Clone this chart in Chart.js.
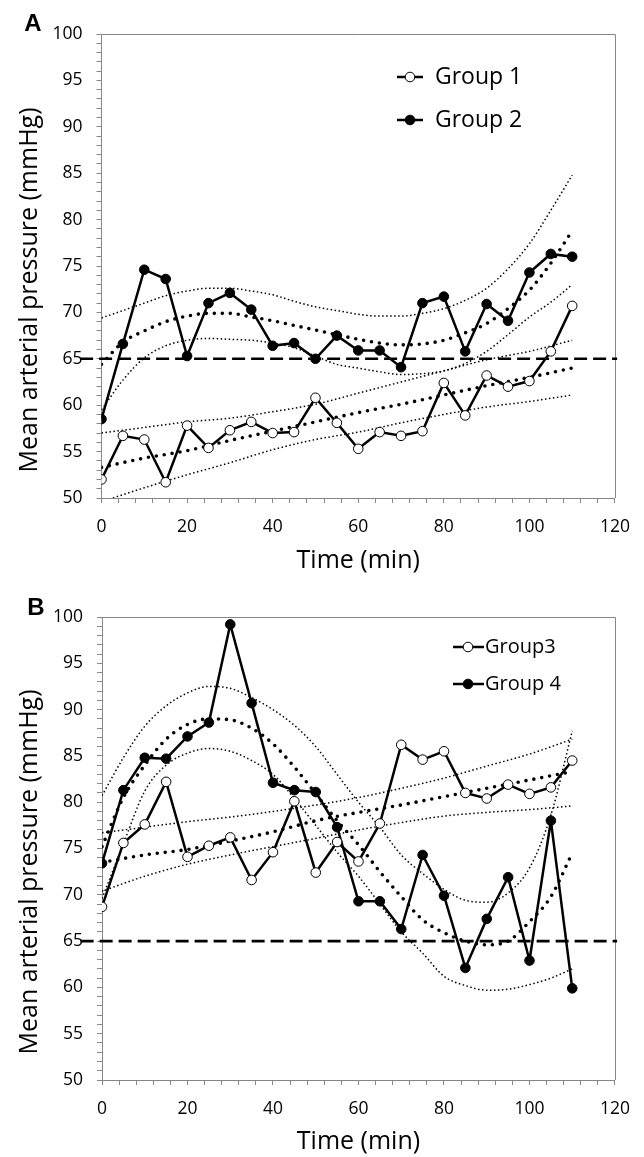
<!DOCTYPE html>
<html>
<head>
<meta charset="utf-8">
<script src="https://cdn.jsdelivr.net/npm/chart.js@4.4.1/dist/chart.umd.min.js"></script>
<style>
  html, body { margin: 0; padding: 0; background: #fff; }
  .panel { position: absolute; left: 0; width: 644px; }
</style>
</head>
<body>
<div class="panel" style="top:0;height:580px"><canvas id="chartA" width="644" height="580" style="width:644px;height:580px"></canvas></div>
<div class="panel" style="top:580px;height:577px"><canvas id="chartB" width="644" height="577" style="width:644px;height:577px"></canvas></div>
<script>
// time points (min)
const time = [0, 5, 10, 15, 20, 25, 30, 35, 40, 45, 50, 55, 60, 65, 70, 75, 80, 85, 90, 95, 100, 105, 110];
const bandTime = [0, 10, 20, 30, 40, 50, 60, 70, 80, 90, 100, 110];

// panel A
const group1 = [52.0, 56.7, 56.3, 51.7, 57.8, 55.4, 57.3, 58.2, 57.0, 57.1, 60.8, 58.1, 55.3, 57.1, 56.7, 57.2, 62.4, 58.9, 63.2, 62.0, 62.6, 65.8, 70.7];
const group2 = [58.5, 66.6, 74.6, 73.6, 65.3, 71.0, 72.1, 70.3, 66.4, 66.7, 65.0, 67.5, 65.9, 65.9, 64.1, 71.0, 71.7, 65.8, 70.9, 69.1, 74.3, 76.3, 76.0];
const trend1 = [53.3, 54.3, 55.1, 56.2, 57.2, 58.2, 59.2, 60.1, 61.1, 62.1, 63.0, 64.0];
const upper1 = [57.0, 57.6, 58.2, 58.6, 59.3, 60.1, 61.3, 62.5, 63.7, 64.9, 65.8, 67.0];
const lower1 = [49.6, 51.1, 52.5, 53.8, 55.2, 56.3, 57.1, 58.1, 59.0, 59.8, 60.4, 61.1];
const trend2 = [64.4, 66.8, 68.0, 69.0, 69.6, 69.9, 69.9, 69.5, 69.1, 68.6, 68.1, 67.6, 67.1, 66.7, 66.5, 66.6, 67.0, 67.8, 68.8, 70.4, 72.4, 75.3, 78.8];
const upper2 = [69.4, 70.2, 71.0, 71.8, 72.3, 72.6, 72.6, 72.3, 71.9, 71.2, 70.6, 70.2, 69.8, 69.6, 69.6, 69.9, 70.4, 71.3, 72.6, 74.7, 77.4, 81.0, 84.8];
const lower2 = [59.5, 62.7, 65.1, 66.4, 67.0, 67.2, 67.1, 67.0, 66.7, 66.2, 65.3, 64.4, 64.0, 63.6, 63.3, 63.4, 63.7, 64.5, 65.8, 67.6, 69.5, 71.1, 73.0];

// panel B
const group3 = [68.7, 75.6, 77.6, 82.2, 74.1, 75.3, 76.2, 71.6, 74.6, 80.1, 72.4, 75.7, 73.6, 77.7, 86.2, 84.6, 85.5, 81.0, 80.4, 81.9, 80.9, 81.6, 84.5];
const group4 = [73.4, 81.3, 84.8, 84.7, 87.1, 88.6, 99.2, 90.7, 82.1, 81.3, 81.1, 77.3, 69.3, 69.3, 66.3, 74.3, 69.9, 62.1, 67.4, 71.9, 62.9, 78.0, 59.9];
const trend3 = [73.5, 74.3, 74.9, 75.8, 76.8, 78.0, 78.9, 79.7, 80.6, 81.5, 82.4, 83.3];
const upper3 = [76.7, 77.3, 77.9, 78.4, 79.0, 79.7, 80.5, 81.5, 82.6, 83.9, 85.2, 86.8];
const lower3 = [70.4, 72.0, 73.3, 74.3, 75.2, 76.1, 77.0, 77.8, 78.5, 78.9, 79.2, 79.6];
const trend4 = [75.2, 80.5, 84.0, 86.8, 88.4, 89.0, 88.9, 88.0, 86.3, 83.8, 80.9, 78.0, 75.4, 72.5, 69.8, 67.3, 65.9, 65.0, 64.6, 65.0, 67.1, 69.8, 74.5];
const upper4 = [80.7, 84.8, 88.2, 90.4, 91.8, 92.5, 92.3, 91.3, 90.0, 88.3, 86.0, 83.0, 80.0, 77.3, 74.3, 72.3, 70.6, 69.4, 69.2, 70.2, 72.9, 78.6, 87.7];
const lower4 = [69.6, 75.5, 81.2, 84.0, 85.3, 85.8, 85.5, 84.5, 83.0, 80.4, 77.5, 74.6, 72.0, 69.0, 66.0, 63.7, 61.2, 60.2, 59.7, 59.8, 60.3, 61.0, 62.0];

// 65 mmHg threshold
const cutoffTime = [-5, 120.5];
const cutoffMAP = [65, 65];

const yTicksMajor = 5;
const xTicksMajor = 20;

const FONT = '"Open Sans", Lato, sans-serif';
const GREY = '#868686';

function pts(xs, ys) {
    return ys.map((y, i) => ({ x: xs[i], y: y }));
}

function seriesSet(label, ys, filled) {
    return {
        label: label,
        data: pts(time, ys),
        borderColor: '#000',
        borderWidth: 2.5,
        pointRadius: 4.8,
        pointBorderWidth: 1,
        pointBorderColor: '#000',
        pointBackgroundColor: filled ? '#000' : '#fff',
        tension: 0
    };
}

function trendSet(xs, ys) {
    return {
        data: pts(xs, ys),
        borderColor: '#000',
        borderWidth: 3.6,
        borderDash: [0, 8],
        borderCapStyle: 'round',
        pointRadius: 0,
        cubicInterpolationMode: 'monotone'
    };
}

function bandSet(xs, ys) {
    return {
        data: pts(xs, ys),
        borderColor: '#000',
        borderWidth: 1.5,
        borderDash: [1.5, 2.5],
        pointRadius: 0,
        cubicInterpolationMode: 'monotone'
    };
}

function cutoffSet() {
    return {
        data: pts(cutoffTime, cutoffMAP),
        borderColor: '#000',
        borderWidth: 2.6,
        borderDash: [13, 6],
        pointRadius: 0,
        clip: false
    };
}

// frame, panel letter, y title and legend
const panelDecor = {
    id: 'panelDecor',
    beforeDatasetsDraw(chart, args, opts) {
        const ctx = chart.ctx, ca = chart.chartArea;
        ctx.save();
        ctx.strokeStyle = GREY;
        ctx.lineWidth = 1;
        ctx.beginPath();
        ctx.moveTo(ca.left, ca.top + 0.5);
        ctx.lineTo(ca.right + 0.5, ca.top + 0.5);
        ctx.lineTo(ca.right + 0.5, ca.bottom);
        ctx.stroke();
        ctx.restore();
    },
    afterDraw(chart, args, opts) {
        const ctx = chart.ctx;
        ctx.save();
        ctx.fillStyle = '#000';
        ctx.font = 'bold 24px "Liberation Sans", Arial, sans-serif';
        ctx.textAlign = 'center';
        ctx.textBaseline = 'middle';
        ctx.fillText(opts.letter, opts.letterX, opts.letterY);

        // y axis title
        ctx.save();
        ctx.translate(opts.yTitleX, opts.yTitleY);
        ctx.rotate(-Math.PI / 2);
        ctx.font = '25px ' + FONT;
        ctx.fillText('Mean arterial pressure (mmHg)', 0, 0);
        ctx.restore();

        const lg = opts.legend;
        lg.items.forEach((item, i) => {
            const y = lg.ys[i];
            ctx.strokeStyle = '#000';
            ctx.lineWidth = 2.5;
            ctx.beginPath();
            ctx.moveTo(lg.lineX[0], y);
            ctx.lineTo(lg.lineX[1], y);
            ctx.stroke();
            ctx.beginPath();
            ctx.arc(lg.markerX, y, 4.8, 0, Math.PI * 2);
            ctx.fillStyle = item.filled ? '#000' : '#fff';
            ctx.fill();
            ctx.lineWidth = 1;
            ctx.stroke();
            ctx.fillStyle = '#000';
            ctx.font = lg.size + 'px ' + FONT;
            ctx.textAlign = 'left';
            ctx.textBaseline = 'middle';
            ctx.fillText(item.label, lg.textX, y);
        });
        ctx.restore();
    }
};

function makeChart(id, datasets, geom, decor) {
    const tickFont = { family: FONT, size: 17.5 };
    const titleFont = { family: FONT, size: 25 };
    return new Chart(document.getElementById(id).getContext('2d'), {
        type: 'line',
        data: { datasets: datasets },
        options: {
            responsive: false,
            animation: false,
            events: [],
            layout: { padding: { top: geom.top, right: geom.right, left: 0, bottom: 0 } },
            plugins: {
                legend: { display: false },
                tooltip: { enabled: false },
                panelDecor: decor
            },
            scales: {
                x: {
                    type: 'linear',
                    min: 0,
                    max: 120,
                    afterFit: (s) => { s.height = geom.xh; },
                    border: { color: GREY, width: 1 },
                    grid: { drawOnChartArea: false, drawTicks: true, tickLength: 5, color: GREY },
                    ticks: {
                        stepSize: 4,
                        autoSkip: false,
                        maxTicksLimit: 200,
                        maxRotation: 0,
                        padding: 14,
                        color: '#000',
                        font: tickFont,
                        callback: (v) => (v % xTicksMajor === 0 ? v : '')
                    },
                    title: {
                        display: true,
                        text: 'Time (min)',
                        color: '#000',
                        font: titleFont,
                        padding: { top: 0, bottom: geom.xtPad }
                    }
                },
                y: {
                    min: 50,
                    max: 100,
                    afterFit: (s) => { s.width = geom.yw; },
                    border: { color: GREY, width: 1 },
                    grid: { drawOnChartArea: false, drawTicks: true, tickLength: 5, color: GREY },
                    ticks: {
                        stepSize: 1,
                        autoSkip: false,
                        maxTicksLimit: 200,
                        padding: 14,
                        color: '#000',
                        font: tickFont,
                        callback: (v) => (v % yTicksMajor === 0 ? v : '')
                    }
                }
            }
        },
        plugins: [panelDecor]
    });
}

document.addEventListener('DOMContentLoaded', () => {
    makeChart('chartA', [
        seriesSet('Group 1', group1, false),
        seriesSet('Group 2', group2, true),
        cutoffSet(),
        trendSet(bandTime, trend1),
        trendSet(time, trend2),
        bandSet(bandTime, upper1),
        bandSet(bandTime, lower1),
        bandSet(time, upper2),
        bandSet(time, lower2)
    ], { top: 34, right: 28.3, yw: 101.5, xh: 82, xtPad: 4 }, {
        letter: 'A', letterX: 33, letterY: 24,
        yTitleX: 30, yTitleY: 290,
        legend: {
            lineX: [397, 423], markerX: 410, textX: 435, ys: [77, 120], size: 23,
            items: [{ label: 'Group 1', filled: false }, { label: 'Group 2', filled: true }]
        }
    });

    makeChart('chartB', [
        seriesSet('Group3', group3, false),
        seriesSet('Group 4', group4, true),
        cutoffSet(),
        trendSet(bandTime, trend3),
        trendSet(time, trend4),
        bandSet(bandTime, upper3),
        bandSet(bandTime, lower3),
        bandSet(time, upper4),
        bandSet(time, lower4)
    ], { top: 37, right: 27, yw: 102, xh: 77, xtPad: 0 }, {
        letter: 'B', letterX: 36, letterY: 28.5,
        yTitleX: 30, yTitleY: 292,
        legend: {
            lineX: [453, 484], markerX: 468, textX: 485, ys: [67, 104], size: 20,
            items: [{ label: 'Group3', filled: false }, { label: 'Group 4', filled: true }]
        }
    });
});
</script>
</body>
</html>
